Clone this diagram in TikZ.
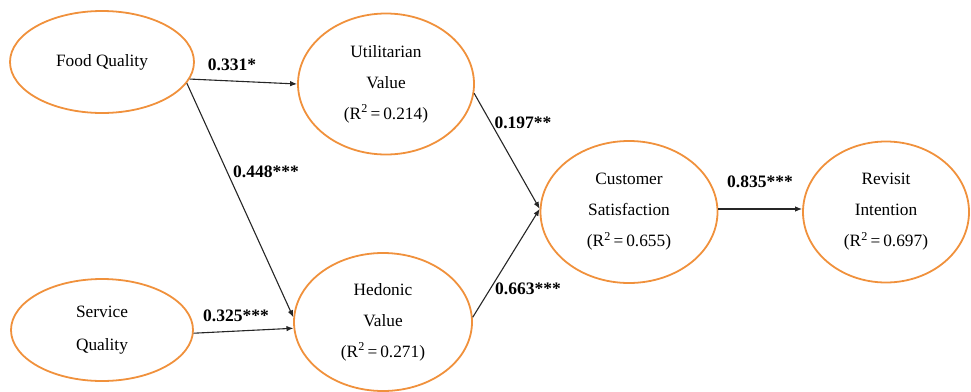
\documentclass[tikz,border=0pt]{standalone}
\usepackage{fontspec}
\setmainfont{Liberation Serif}
\usetikzlibrary{shapes.geometric,arrows.meta}
\definecolor{orng}{RGB}{240,145,60}
\tikzset{
  construct/.style={ellipse,draw=orng,line width=1.8pt,inner sep=0pt,align=center,
    font=\fontsize{17.3}{31}\selectfont},
  path/.style={draw=black!85,line width=1.1pt,-{Latex[length=7pt,width=5.5pt]}},
  coef/.style={font=\fontsize{17.5}{20}\selectfont\bfseries,inner sep=0pt}
}
\begin{document}
\begin{tikzpicture}[x=1pt,y=-1pt]
\useasboundingbox (0,0) rectangle (971,391);
\node[construct,minimum width=184pt,minimum height=102pt] (fq) at (102,62) {Food Quality};
\node[construct,minimum width=182pt,minimum height=102pt] (sq) at (102,330) {Service\\[2pt]Quality};
\node[construct,minimum width=176pt,minimum height=141pt] (uv) at (386,84) {Utilitarian\\Value\\(R\textsuperscript{2}\,=\,0.214)};
\node[construct,minimum width=178pt,minimum height=138pt] (hv) at (383,322) {Hedonic\\Value\\(R\textsuperscript{2}\,=\,0.271)};
\node[construct,minimum width=177pt,minimum height=142pt] (cs) at (629,212) {Customer\\Satisfaction\\(R\textsuperscript{2}\,=\,0.655)};
\node[construct,minimum width=166pt,minimum height=141pt] (ri) at (886,212) {Revisit\\Intention\\(R\textsuperscript{2}\,=\,0.697)};
\draw[path] (fq.-11.6) -- (uv.180);
\draw[path] (fq.-14.3) -- (hv.177);
\draw[path] (sq.-2.5) -- (hv.184);
\draw[path] (uv.-6.6) -- (cs.178);
\draw[path] (hv.3.2) -- (cs.178);
\draw[path] (cs.east |- 0,209) coordinate (csr) -- (ri.west |- 0,209);
\node[coef] (l1) at (232,65) {0.331*};
\node[coef] (l2) at (266,172) {0.448***};
\node[coef] (l3) at (236,316) {0.325***};
\node[coef] (l4) at (523,123) {0.197**};
\node[coef] (l5) at (528,289) {0.663***};
\node[coef] (l6) at (760,182) {0.835***};
\end{tikzpicture}
\end{document}
